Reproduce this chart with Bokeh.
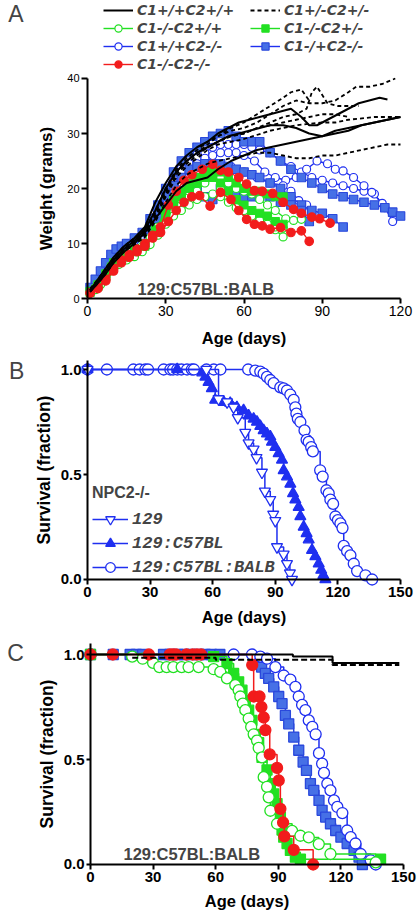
from bokeh.plotting import figure
from bokeh.layouts import column
from bokeh.models import Legend, LegendItem, Label, Range1d, FixedTicker, NumeralTickFormatter
from bokeh.embed import file_html
from bokeh.resources import INLINE

SANS = "Liberation Sans"
LEG_A_FONT = "DejaVu Sans"
LEG_B_FONT = "Liberation Mono"

BLACK = "#000000"
GREEN = "#22e022"
RED = "#f21c1c"
BLUE = "#1f2ff0"
SQ_FILL = "#4670e6"
SQ_LINE = "#2a48dc"

# ---------------- Panel A : weight (g) vs age (days) ----------------
a_xticks = [0, 30, 60, 90, 120]
a_yticks = [0, 10, 20, 30, 40]
a_labels = ["C1+/+C2+/+", "C1-/-C2+/+", "C1+/+C2-/-", "C1-/-C2-/-",
            "C1+/-C2+/-", "C1-/-C2+/-", "C1-/+C2-/-"]

# C1+/+C2+/+ (solid black)
wt_days = [
    [1,4,7,10,14,18,22,26,30,34,38,42,46,50,54,58,62,66,70,74,78,82,85,88,92,96,100,104,108,112,115],
    [1,4,7,10,14,18,22,26,30,34,38,42,46,50,54,58,62,66,70,75,80,85,90,95,100,105,110,115,120],
    [1,4,7,10,14,18,22,26,30,34,38,42,46,50,55,60,65,70,75,80,85,90,95,100,105,110,115,120],
]
wt_wts = [
    [1.5,3.5,5.5,7.5,9.5,11,13,17.5,21,24,26,27.5,28.5,30,31,32,32.5,33,33.5,34,34.5,33,31.5,31.5,32.5,33.5,34.5,35.5,36,36.5,36.2],
    [1.5,3,5,7,9,10.5,12.5,16,20,23,25,26.5,27.5,28.5,29.5,30,30.5,31,31.5,31.5,31,30,29.5,30.5,31,31.5,32,32.5,33],
    [1.2,2.8,4.5,6.5,8.5,10,12,14.5,17,19.5,21,21.5,22,23.5,25,26,27,27.5,28,28.5,29,29.5,30,30.5,31.5,32,32.5,33],
]

# C1+/-C2+/- (dashed black)
het_days = [
    [1,4,7,10,14,18,22,26,30,34,38,42,46,50,55,60,65,70,75,80,85,90,95,100,103,108,113,118],
    [1,4,7,10,14,18,22,26,30,34,38,42,46,50,55,60,65,70,75,78,82,85],
    [1,4,7,10,14,18,22,26,30,34,38,42,46,50,55,60,65,70,75,80,84,86,88,90,92,96,100,104],
    [1,4,7,10,14,18,22,26,30,34,38,42,46,50,55,60,70,80,90,95,100,110,120],
    [1,4,7,10,14,18,22,26,30,34,38,42,46,50,55,60,65,70,75,80,85,90,95,100,105,110,115,120],
    [1,4,7,10,14,18,22,26,30,34,38,42,46,50,55,60,65,70,75,80,85,90,95,100],
]
het_wts = [
    [1.8,3.5,5.5,7.5,9.5,11,12.5,16,20,23.5,25.5,27,28.5,29.5,30.5,31,32,33.5,35,36,35.5,35.5,36,37.5,38.5,38.5,39,40],
    [1.5,3.2,5,7,9,10.5,12,15.5,19.5,23,25,26.5,28,29.5,31,32,33.5,35,36.5,37.5,38,36],
    [1.3,3,4.8,6.8,8.8,10.2,11.8,15,19,22.5,24.5,26,27.5,28.5,29.5,30,31,32,33,33.5,34.5,37.5,38.5,37,35.5,35,35,35],
    [1.4,3,4.8,6.8,8.8,10,11.5,14.5,18.5,22,24,25.5,27,28,28.5,29,30.5,31.5,32,32,32.5,33,33],
    [1.2,2.8,4.5,6.5,8.5,9.8,11.2,14,17.5,20.5,22.5,23.5,24.5,25,25.5,26,26.5,26.5,26,25.5,25.5,26,26,26.5,27,27.5,28,28],
    [1.6,3.3,5.2,7.2,9.2,10.8,12.3,15.8,20,23,25,26.5,27.5,28.5,29.5,30,31,31.5,32,32.5,33,33.5,33.5,33],
]

# C1-/-C2+/+ (green open circles)
c1ko_days = [
    [1,3,5,7,9,12,15,18,21,24,27,30,33,36,39,42,45,48,51,54,57,60,63,66,69,72,75],
    [1,3,5,7,9,12,15,18,21,24,27,30,33,36,39,42,45,48,51,54,57,60,63,66,69,72,76,79,82],
    [1,3,5,7,9,12,15,18,21,24,27,30,33,36,39,42,45,48,51,54,57,60,63,66,69,72,75],
]
c1ko_wts = [
    [1.2,2,3,4.5,6,7,7.5,8,9,10.5,12.5,15,16,17,18.5,19.5,21,22.5,20,18.5,17.5,16.5,15.5,14.5,13.5,12.5,11.2],
    [1,1.8,2.8,4,5.5,6.8,7.5,8.2,9.5,11,13,15.5,17,18,19.5,21,22,22.5,22,21,20,19.5,19,18,17,16,14.5,14.2,14.4],
    [1,1.6,2.5,3.8,5,6.2,7,7.6,8.5,9.8,11.5,13.5,15,16,17,18,18.5,19,18.5,17.5,16.5,16,15,14.2,13.5,13,12.8],
]

# C1-/-C2+/- (green filled squares)
c1ko2het_days = [
    [1,4,7,10,14,18,22,26,30,33,36,39,42,45,48,51,54,57,60,63,66,69,72,75],
    [1,4,7,10,14,18,22,26,30,33,36,39,42,45,48,51,54,57,60,63,66,69,72,75],
]
c1ko2het_wts = [
    [1.3,2.5,4.5,6.5,8,9,10,12.5,16,18,19.5,21,22,23,23.5,23,22,21,20,19.5,19.5,19,18.5,18.5],
    [1.1,2.2,4,6,7.5,8.5,9.5,12,15,17,18.5,20,21,22,22,21,19.5,18,17,16,15.5,15,14,13.5],
]

# C1+/+C2-/- (blue open circles)
c2ko_days = [
    [1,3,5,7,9,11,13,15,18,21,24,27,30,33,36,39,42,45,48,51,54,57,60,63,66,70,74,78,82,86,90,94,98,102,106,110,114,117],
    [36,39,42,45,48,51,54,57,60,64,68,72,76,80,84,88,92,95,98,102,106,109,113],
    [36,39,42,45,48,51,55,60,65,70,75,78,81,84],
]
c2ko_wts = [
    [1.5,3,4.5,6,7.5,8.5,9.5,10,10.5,11.5,13,15,18,21,23,24.5,25.5,26.5,27.5,28,28,28,28,27.5,27,26.5,25,24,23,22,21.5,21,20.5,20,19.5,19,16.5,14],
    [22,23.5,24.5,25.5,26,26.5,26.5,26.5,26,25,23,22,21.5,22,23.5,25,24.5,23.5,23.2,22,20.5,19.3,17.3],
    [21,22,23,23.5,24,24,24,23,22,21,20.5,19.5,17.8,17],
]

# C1-/+C2-/- (blue squares)
c1het2ko_days = [
    [1,3,5,7,9,11,13,15,18,21,24,27,30,33,36,39,42,45,48,51,54,57,60,63,66,70,74,78,82,86,90,94,98,102,106,110,114,117,120],
    [24,27,30,33,36,39,42,45,48,51,54,57,60,63,66,70,74,78,82,86,90,94,98],
    [24,27,30,33,36,39,42,45,48,51,54,57,60,63,66,70,74,78,82,85],
]
c1het2ko_wts = [
    [2,3.5,5,6.5,8,9,9.5,10,11,12,14.5,17,20,23,25,26.5,27.5,28.5,29.5,30,30.5,29.5,28.5,28.5,28.5,26.5,25,23.5,22,21,20,19,18.5,18,17.5,17,16.5,15.7,15],
    [13,16,18.5,20.5,22,23.5,24,24.5,24.5,24.5,24,23.5,23,22.5,22,21,20,18.5,17,16,15.5,14.5,13],
    [12.5,14.5,16,18,19,20,19.5,18.5,18,20,20,19.5,18.5,18.5,18.5,18.5,17.5,17,16,14],
]

# C1-/-C2-/- (red filled circles)
dko_days = [
    [1,4,7,10,13,16,19,22,25,28,31,34,37,40,44,48,51,54,58,61,64,67,71,75,79,82,86,89,93],
    [1,4,7,10,13,16,19,22,25,28,31,34,37,40,43,47,51,55,58,61,64,67,70,74,78,82,85],
]
dko_wts = [
    [1,2,3.5,5.5,7,8,9,10,11.5,13,17,19.5,21.5,22.5,23.5,24.4,23.3,23,22,20.8,19.6,19.5,19.1,17.5,16.2,15.5,14.8,14.5,13.7],
    [1,1.8,3.2,5,6.5,7.5,8.5,9.5,11,12,14,16,17.5,18.5,18.7,16.8,19.3,18,16,14.4,13.5,13.2,12.6,12.9,12,12.3,10.4],
]

# ---------------- Panel B : NPC2-/- survival ----------------
surv_xticks = [0, 30, 60, 90, 120, 150]
surv_yticks = [0.0, 0.5, 1.0]
b_labels = ["129", "129:C57BL", "129:C57BL:BALB"]

b_129 = [(0,1.0),(57,1.0),(62.8,0.86),(66.9,0.845),(70,0.82),(72,0.77),(75.6,0.70),(77.2,0.65),
         (79.6,0.62),(81,0.58),(83.6,0.51),(85,0.42),(87.6,0.38),(89,0.31),(90,0.28),(90.8,0.155),
         (94,0.12),(95.6,0.075),(97,0.03),(98,0.0)]
b_c57 = [(0,1.0),(43,1.0),(55,0.985),(56.5,0.965),(58,0.94),(59.6,0.91),(61.2,0.855),(65.3,0.845),
         (68.4,0.84),(71.6,0.82),(74.8,0.805),(77.2,0.78),(79.6,0.765),(81.2,0.75),(82.8,0.73),
         (84.4,0.71),(86,0.695),(87.6,0.68),(88.4,0.655),(90,0.63),(91.6,0.6),(93.2,0.57),(94,0.52),
         (95.6,0.49),(97.2,0.455),(98.5,0.41),(99.6,0.38),(101.2,0.345),(102,0.3),(103.6,0.25),
         (105,0.22),(106,0.19),(107.6,0.14),(109.2,0.11),(110.8,0.075),(112,0.045),(113,0.02),(114,0.0)]
b_balb = [(0,1),(9.3,1),(22,1),(25,1),(27.7,1),(29,1),(36.5,1),(39.7,1),(41,1),(43,1),(45,1),(47.7,1),
          (50,1),(51,1),(57,1),(60.5,1),(63.7,1),(77,1.0),(80.4,0.995),(82.8,0.99),(84.4,0.98),(86,0.965),
          (87.6,0.95),(89.2,0.935),(92.4,0.915),(94,0.91),(95.6,0.9),(97.2,0.88),(98.8,0.855),(99.6,0.82),
          (100.1,0.79),(100.8,0.765),(102,0.75),(104,0.71),(105,0.665),(106,0.655),(107.2,0.63),(108,0.61),
          (111.5,0.52),(112.7,0.49),(114.5,0.425),(115.6,0.41),(116.4,0.38),(117.7,0.36),(118.8,0.3),
          (120,0.283),(121.2,0.267),(122.2,0.245),(122.8,0.16),(124.4,0.135),(126,0.115),(127.6,0.075),
          (129.2,0.04),(133.2,0.02),(136.4,0.0)]

# ---------------- Panel C : 129:C57BL:BALB survival ----------------
c_wt = [(0,1.0),(97,0.99),(116,0.96),(148,0.96)]
c_het = [(20,0.985),(60,0.975),(116,0.95),(148,0.95)]
c_c1ko = [(0,1.0),(20,0.99),(25,0.98),(30,0.96),(33,0.94),(36.5,0.94),(39.7,0.94),(43.7,0.94),(47,0.94),
          (51.8,0.94),(59,0.93),(62.2,0.917),(65.4,0.886),(69.4,0.854),(71,0.83),(71.8,0.8),(73,0.766),
          (74.2,0.735),(75.8,0.695),(77,0.655),(78.2,0.62),(79.8,0.59),(80.6,0.555),(82.2,0.51),(83,0.416),
          (84.6,0.37),(85.4,0.32),(86.2,0.256),(89.4,0.194),(96.6,0.16),(100.6,0.137),(104.6,0.129),
          (109.4,0.097),(115,0.05),(136.7,0.01)]
c_c1ko2het = [(0,1.0),(59,0.99),(65.4,0.957),(68.6,0.91),(71,0.87),(72.6,0.83),(74.2,0.78),(75.8,0.735),
              (77.4,0.686),(79,0.62),(80.6,0.58),(82.2,0.51),(84.6,0.45),(86.2,0.385),(87.8,0.336),(89.4,0.29),
              (91,0.226),(91.8,0.164),(92.6,0.13),(94.2,0.1),(95.8,0.067),(98.2,0.035),(100.6,0.025),(139,0.025)]
c_dko = [(0,1),(10.7,1),(28,1),(38,1),(39.5,1),(41,1),(46,1),(49,1),(51,1),(53,1),(77.5,0.95),(78.2,0.8),
         (81,0.8),(81.9,0.75),(83,0.7),(83.8,0.64),(85.9,0.524),(89.4,0.46),(90.2,0.4),(91,0.265),(92.3,0.2),
         (92.9,0.134),(97.4,0.07),(106.7,0.0)]
c_c2ko = [(0,1),(68.6,1),(77.4,1),(81.4,0.99),(84.6,0.98),(88.6,0.94),(92.6,0.9),(95.8,0.88),(98.2,0.846),
          (99.8,0.8),(101.4,0.76),(103,0.735),(104.6,0.686),(106.3,0.655),(107.9,0.62),(109.5,0.53),(111,0.48),
          (111.9,0.436),(113.5,0.385),(115,0.353),(116.7,0.305),(118.3,0.274),(120.7,0.245),(123,0.162),
          (124.7,0.13),(127,0.1),(129.5,0.05),(134.3,0.02),(136.7,0.0)]
c_c1het2ko = [(0,1),(10.9,1),(19,1),(22,1),(25,1),(35,1),(38,1),(42,1),(45,1),(48,1),(52,1),(55,1),(58,1),
              (62,1),(80,0.97),(82,0.94),(83.8,0.91),(85.4,0.886),(87.8,0.846),(90.2,0.8),(91.8,0.766),
              (93.4,0.71),(95,0.67),(97.4,0.607),(99.8,0.544),(101.9,0.488),(103.5,0.448),(105.4,0.385),
              (107,0.353),(109.5,0.305),(111,0.258),(112.7,0.226),(115,0.194),(117.5,0.162),(120,0.13),
              (123,0.1),(126.3,0.067),(128.7,0.035),(130.3,0.0)]


def make_fig(w, h, xr, yr):
    return figure(width=w, height=h, x_range=Range1d(*xr), y_range=Range1d(*yr),
                  output_backend="svg", toolbar_location=None,
                  min_border_left=0, min_border_right=0, min_border_top=0, min_border_bottom=0)


def base_axes(p, xticks, yticks, xbounds, ybounds, xlab, ylab, tick_font_x, tick_font_y, tick_style,
              ylab_size, xlab_standoff, ylab_standoff, tick_out_y):
    p.xgrid.visible = False
    p.ygrid.visible = False
    p.outline_line_color = None
    p.xaxis.ticker = FixedTicker(ticks=xticks)
    p.yaxis.ticker = FixedTicker(ticks=yticks)
    p.xaxis.fixed_location = 0
    p.yaxis.fixed_location = 0
    p.xaxis.bounds = xbounds
    p.yaxis.bounds = ybounds
    for ax in (p.xaxis[0], p.yaxis[0]):
        ax.axis_line_width = 2
        ax.axis_line_color = BLACK
        ax.major_tick_line_width = 2
        ax.major_tick_line_color = BLACK
        ax.major_tick_in = 0
        ax.minor_tick_line_color = None
        ax.major_label_text_font = SANS
        ax.major_label_text_font_style = tick_style
        ax.major_label_text_color = BLACK
        ax.axis_label_text_font = SANS
        ax.axis_label_text_font_style = "bold"
        ax.axis_label_text_color = BLACK
    p.xaxis.major_tick_out = 5
    p.yaxis.major_tick_out = tick_out_y
    p.xaxis.major_label_standoff = 2
    p.yaxis.major_label_standoff = 2
    p.xaxis.major_label_text_font_size = tick_font_x
    p.yaxis.major_label_text_font_size = tick_font_y
    p.xaxis.axis_label = xlab
    p.yaxis.axis_label = ylab
    p.xaxis.axis_label_text_font_size = "16.5px"
    p.yaxis.axis_label_text_font_size = ylab_size
    p.xaxis.axis_label_standoff = xlab_standoff
    p.yaxis.axis_label_standoff = ylab_standoff


def flat(lists):
    return [v for sub in lists for v in sub]


# ======================= Figure A =======================
pa = make_fig(420, 355, (-33.36, 127.67), (-10.36, 54.18))
base_axes(pa, a_xticks, a_yticks, (0, 120), (0, 40), "Age (days)", "Weight (grams)",
          "14px", "11px", "normal", "17px", 10, 8, 6)


def weight_group(days, wts, color, marker=None, fill=None, mline=None, size=8, dash="solid", width=1.4):
    rs = [pa.multi_line(xs=days, ys=wts, line_color=color, line_width=width, line_dash=dash)]
    if marker is not None:
        rs.append(pa.scatter(flat(days), flat(wts), marker=marker, size=size, fill_color=fill,
                             line_color=mline or color, line_width=1.2))
    return rs


r_c2ko = weight_group(c2ko_days, c2ko_wts, BLUE, "circle", "white", size=8)
r_c1het2ko = weight_group(c1het2ko_days, c1het2ko_wts, BLUE, "square", SQ_FILL, SQ_LINE, size=8.5)
r_c1ko = weight_group(c1ko_days, c1ko_wts, GREEN, "circle", "white", size=8)
r_c1ko2het = weight_group(c1ko2het_days, c1ko2het_wts, GREEN, "square", GREEN, size=8)
r_dko = weight_group(dko_days, dko_wts, RED, "circle", RED, size=8.5)
r_het = weight_group(het_days, het_wts, BLACK, dash="4 3", width=1.8)
r_wt = weight_group(wt_days, wt_wts, BLACK, width=2)

leg_cols_a = [
    ([(a_labels[0], r_wt), (a_labels[1], r_c1ko), (a_labels[2], r_c2ko), (a_labels[3], r_dko)], (103, 282)),
    ([(a_labels[4], r_het), (a_labels[5], r_c1ko2het), (a_labels[6], r_c1het2ko)], (250, 300)),
]
for items, loc in leg_cols_a:
    pa.add_layout(Legend(items=[LegendItem(label=lab, renderers=rs) for lab, rs in items],
                         location=loc, margin=0, padding=0, spacing=0,
                         glyph_width=30, glyph_height=18, label_height=18, label_standoff=4,
                         label_text_font=LEG_A_FONT, label_text_font_style="bold italic",
                         label_text_font_size="14px",
                         background_fill_alpha=0, border_line_color=None), "center")

pa.add_layout(Label(x=19.2, y=1.8, text="129:C57BL:BALB", text_font=SANS, text_font_style="bold",
                    text_font_size="16.5px", text_baseline="middle", text_align="left"))
pa.add_layout(Label(x=-27.4, y=51.8, text="A", text_font=SANS, text_font_size="23px",
                    text_baseline="middle", text_align="center"))

# ======================= Figure B =======================
pb = make_fig(420, 277, (-41.69, 159.58), (-0.2524, 1.0667))
base_axes(pb, surv_xticks, surv_yticks, (0, 150), (0, 1.043), "Age (days)", "Survival (fraction)",
          "15px", "15px", "bold", "17.5px", 7, 4, 4)
pb.yaxis.formatter = NumeralTickFormatter(format="0.0")
pb.xaxis.major_label_standoff = 3


def km(p, pts, color, marker=None, fill=None, mline=None, size=10, dash="solid", width=1.5):
    xs = [t for t, s in pts]
    ys = [s for t, s in pts]
    rs = [p.step(xs, ys, mode="after", line_color=color, line_width=width, line_dash=dash)]
    if marker is not None:
        rs.append(p.scatter(xs, ys, marker=marker, size=size, fill_color=fill,
                            line_color=mline or color, line_width=1.3))
    return rs


rb_balb = km(pb, b_balb, BLUE, "circle", "white", size=11)
rb_c57 = km(pb, b_c57, BLUE, "triangle", BLUE, size=11)
rb_129 = km(pb, b_129, BLUE, "inverted_triangle", "white", size=11)

leg_b = Legend(items=[
    LegendItem(label=b_labels[0], renderers=rb_129),
    LegendItem(label=b_labels[1], renderers=rb_c57),
    LegendItem(label=b_labels[2], renderers=rb_balb),
], location=(92, 53), margin=0, padding=0, spacing=0,
    glyph_width=36, glyph_height=24, label_height=24, label_standoff=4,
    label_text_font=LEG_B_FONT, label_text_font_style="bold italic", label_text_font_size="17px",
    title="NPC2-/-", title_text_font=SANS, title_text_font_style="bold", title_text_font_size="16px",
    title_standoff=5, background_fill_alpha=0, border_line_color=None)
pb.add_layout(leg_b, "center")
pb.add_layout(Label(x=-34, y=0.995, text="B", text_font=SANS, text_font_size="23px",
                    text_baseline="middle", text_align="center"))

# ======================= Figure C =======================
pc = make_fig(420, 291, (-43.13, 158.15), (-0.281, 1.1048))
base_axes(pc, surv_xticks, surv_yticks, (0, 150), (0, 1.052), "Age (days)", "Survival (fraction)",
          "15px", "15px", "bold", "17.5px", 6, 4, 4)
pc.yaxis.formatter = NumeralTickFormatter(format="0.0")
pc.xaxis.major_label_standoff = 3

km(pc, c_c1het2ko, SQ_LINE, "square", SQ_FILL, SQ_LINE, size=10)
km(pc, c_c2ko, BLUE, "circle", "white", size=11)
km(pc, c_c1ko2het, GREEN, "square", GREEN, size=10)
km(pc, c_c1ko, GREEN, "circle", "white", size=11)
km(pc, c_dko, RED, "circle", RED, size=11)
km(pc, c_het, BLACK, dash="6 3", width=2)
km(pc, c_wt, BLACK, width=2)

pc.add_layout(Label(x=15.8, y=0.052, text="129:C57BL:BALB", text_font=SANS, text_font_style="bold",
                    text_font_size="16.5px", text_baseline="middle", text_align="left"))
pc.add_layout(Label(x=-35.9, y=1.005, text="C", text_font=SANS, text_font_size="23px",
                    text_baseline="middle", text_align="center"))

layout = column(pa, pb, pc, spacing=0)
open("out.html", "w").write(file_html(layout, INLINE, title="NPC weight and survival"))
